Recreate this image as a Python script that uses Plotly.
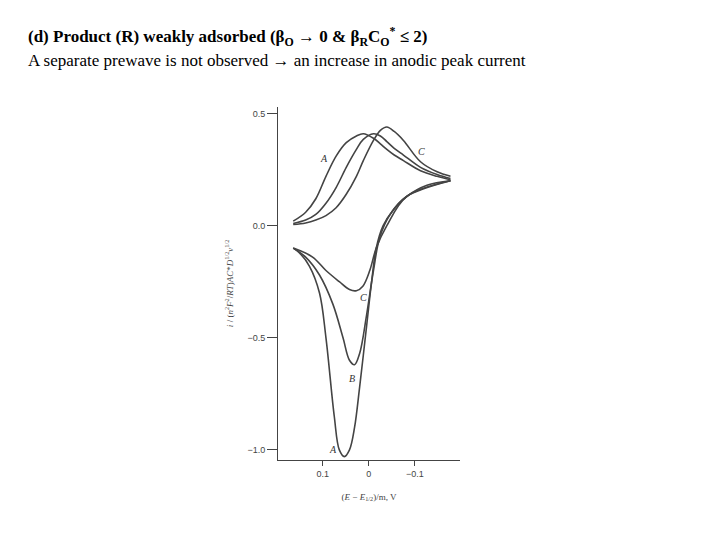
import plotly.graph_objects as go

# potential (E - E1/2), V ; forward (upper) sweeps
e_fwd = [0.164, 0.137, 0.115, 0.093, 0.071, 0.049, 0.027, 0.012, -0.01, -0.025, -0.039, -0.055, -0.075, -0.112, -0.148, -0.177]
i_fwd_a = [0.02, 0.06, 0.12, 0.22, 0.31, 0.37, 0.40, 0.41, 0.39, 0.365, 0.34, 0.315, 0.29, 0.245, 0.22, 0.205]
i_fwd_b = [0.01, 0.025, 0.05, 0.10, 0.17, 0.26, 0.34, 0.385, 0.41, 0.40, 0.375, 0.345, 0.315, 0.26, 0.228, 0.21]
i_fwd_c = [0.005, 0.012, 0.025, 0.045, 0.08, 0.14, 0.22, 0.29, 0.38, 0.425, 0.44, 0.42, 0.38, 0.285, 0.24, 0.22]

# reverse (lower) sweeps
e_rev_a = [-0.177, -0.126, -0.082, -0.053, -0.031, -0.016, -0.006, 0.005, 0.02, 0.031, 0.042, 0.053, 0.064, 0.075, 0.093, 0.107, 0.129, 0.151, 0.164]
i_rev_a = [0.2, 0.18, 0.13, 0.07, 0.0, -0.1, -0.25, -0.45, -0.72, -0.9, -1.0, -1.03, -1.0, -0.85, -0.5, -0.3, -0.18, -0.12, -0.1]
e_rev_b = [-0.177, -0.082, -0.046, -0.024, -0.01, 0.005, 0.02, 0.031, 0.042, 0.056, 0.078, 0.107, 0.137, 0.164]
i_rev_b = [0.2, 0.13, 0.05, -0.05, -0.2, -0.4, -0.57, -0.62, -0.6, -0.5, -0.35, -0.22, -0.14, -0.1]
e_rev_c = [-0.177, -0.082, -0.039, -0.016, -0.002, 0.013, 0.027, 0.042, 0.064, 0.093, 0.122, 0.164]
i_rev_c = [0.2, 0.13, 0.0, -0.1, -0.2, -0.27, -0.29, -0.285, -0.25, -0.2, -0.14, -0.1]

line = dict(color="#444", width=1.6, shape="spline", smoothing=1.0)
fig = go.Figure()
for x, y in [(e_fwd, i_fwd_a), (e_fwd, i_fwd_b), (e_fwd, i_fwd_c),
             (e_rev_a, i_rev_a), (e_rev_b, i_rev_b), (e_rev_c, i_rev_c)]:
    fig.add_trace(go.Scatter(x=x, y=y, mode="lines", line=line, showlegend=False))

# curve labels
lab = dict(showarrow=False, font=dict(family="Liberation Serif", size=10, color="#333"))
for txt, x, y in [("A", 0.097, 0.3), ("C", -0.115, 0.33), ("C", 0.012, -0.32),
                  ("B", 0.037, -0.68), ("A", 0.077, -1.0)]:
    fig.add_annotation(text="<i>" + txt + "</i>", x=x, y=y, **lab)

fig.update_layout(
    width=720, height=540, paper_bgcolor="white", plot_bgcolor="white",
    margin=dict(l=0, r=0, t=0, b=0),
    xaxis=dict(domain=[0.375, 0.628], range=[0.197, -0.198], tickvals=[0.1, 0, -0.1],
               ticktext=["0.1", "0", "\u22120.1"], ticks="outside", ticklen=5,
               showline=True, linecolor="#444", showgrid=False, zeroline=False, automargin=False,
               tickfont=dict(family="Liberation Sans", size=9, color="#444"),
               title=dict(text="(<i>E</i> \u2212 <i>E</i><sub>1/2</sub>)/m, V",
                          font=dict(family="Liberation Serif", size=9, color="#444"))),
    yaxis=dict(domain=[0.163, 0.817], range=[-1.045, 0.53], tickvals=[0.5, 0, -0.5, -1.0],
               ticktext=["0.5", "0.0", "\u22120.5", "\u22121.0"], ticks="outside", ticklen=10,
               showline=True, linecolor="#444", showgrid=False, zeroline=False, automargin=False,
               tickfont=dict(family="Liberation Sans", size=9, color="#444"),
               title=dict(text="<i>i</i> / (<i>n</i><sup>2</sup><i>F</i><sup>2</sup>/<i>RT</i>)<i>AC</i>*<i>D</i><sup>1/2</sup><i>v</i><sup>1/2</sup>",
                          font=dict(family="Liberation Serif", size=9, color="#444"), standoff=12)),
)

hdr = dict(showarrow=False, xref="paper", yref="paper", xanchor="left", yanchor="middle",
           font=dict(family="Liberation Serif", size=17, color="black"))
fig.add_annotation(text="<b>(d) Product (R) weakly adsorbed (\u03b2<sub>O</sub> \u2192 0 &amp; \u03b2<sub>R</sub>C<sub>O</sub><sup>*</sup> \u2264 2)</b>",
                   x=18 / 720, y=1 - 29 / 540, **hdr)
fig.add_annotation(text="A separate prewave is not observed \u2192 an increase in anodic peak current",
                   x=18 / 720, y=1 - 52 / 540, **hdr)

fig.write_html("out.html")
